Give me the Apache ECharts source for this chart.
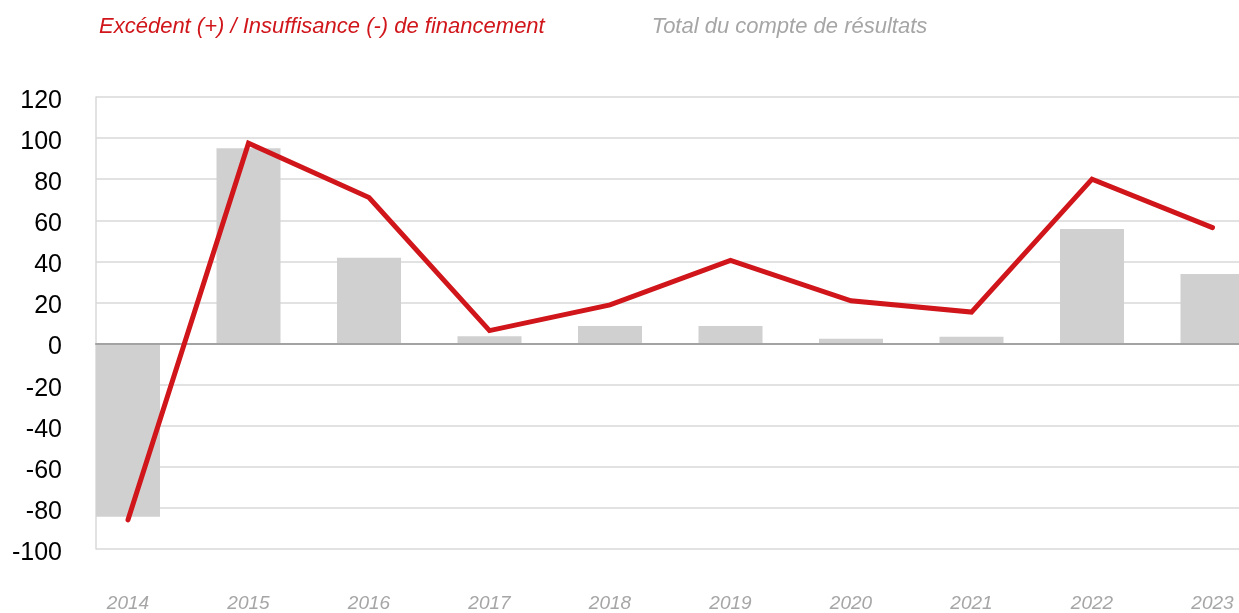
<!DOCTYPE html>
<html>
<head>
<meta charset="utf-8">
<script src="https://cdn.jsdelivr.net/npm/echarts@6/dist/echarts.min.js"></script>
<style>
  html, body { margin: 0; padding: 0; background: #fff; }
  #chart { width: 1239px; height: 613px; }
</style>
</head>
<body>
<div id="chart"></div>
<script>
  // data
  const years = ['2014', '2015', '2016', '2017', '2018', '2019', '2020', '2021', '2022', '2023'];
  const totalResultats = [-84.3, 95.1, 41.7, 3.6, 8.6, 8.6, 2.3, 3.3, 55.8, 33.9];
  const excedent = [-85.8, 97.5, 71.1, 6.3, 18.8, 40.5, 20.8, 15.3, 80, 56.4];
  const yTicks = { min: -100, max: 120, step: 20 };

  const nameLine = 'Excédent (+) / Insuffisance (-) de financement';
  const nameBar = 'Total du compte de résultats';

  const chart = echarts.init(document.getElementById('chart'), null, { renderer: 'canvas' });

  chart.setOption({
    animation: false,
    backgroundColor: '#fff',
    legend: {
      left: 89,
      top: 11,
      itemWidth: 0,
      itemHeight: 0,
      itemGap: 102,
      icon: 'none',
      data: [
        { name: nameLine, textStyle: { color: '#D0161B' } },
        { name: nameBar, textStyle: { color: '#A6A6A6' } }
      ],
      textStyle: {
        fontFamily: 'Liberation Sans, Arial',
        fontStyle: 'italic',
        fontSize: 22
      }
    },
    grid: [
      // background grid: gridlines, y labels, zero line
      { left: 96, right: 0, top: 97, bottom: 64, outerBoundsMode: 'none' },
      // data grid: wider than the canvas so the category centres match the picture
      { left: 67.75, width: 1205, top: 97, bottom: 64, outerBoundsMode: 'none' }
    ],
    xAxis: [
      {
        gridIndex: 0,
        type: 'value',
        min: 0,
        max: 1,
        z: 3,
        axisLine: { show: true, onZero: true, lineStyle: { color: '#A3A3A3', width: 2 } },
        axisTick: { show: false },
        axisLabel: { show: false },
        splitLine: { show: false }
      },
      {
        gridIndex: 1,
        type: 'category',
        data: years,
        axisLine: { show: false },
        axisTick: { show: false },
        axisLabel: {
          margin: 45,
          color: '#A6A6A6',
          fontStyle: 'italic',
          fontFamily: 'Liberation Sans, Arial',
          fontSize: 19
        }
      }
    ],
    yAxis: [
      {
        gridIndex: 0,
        type: 'value',
        min: yTicks.min,
        max: yTicks.max,
        interval: yTicks.step,
        axisLine: { show: true, lineStyle: { color: '#D9D9D9', width: 1.5 } },
        axisTick: { show: false },
        splitLine: { show: true, lineStyle: { color: '#D9D9D9', width: 1.5 } },
        axisLabel: {
          margin: 34,
          color: '#000',
          fontFamily: 'Liberation Sans, Arial',
          fontSize: 25,
          verticalAlign: 'top',
          lineHeight: 8
        }
      },
      {
        gridIndex: 1,
        type: 'value',
        min: yTicks.min,
        max: yTicks.max,
        show: false
      }
    ],
    series: [
      {
        name: nameBar,
        type: 'bar',
        xAxisIndex: 1,
        yAxisIndex: 1,
        data: totalResultats,
        barWidth: 64,
        itemStyle: { color: '#D0D0D0' },
        z: 2
      },
      {
        name: nameLine,
        type: 'line',
        xAxisIndex: 1,
        yAxisIndex: 1,
        data: excedent,
        symbol: 'none',
        lineStyle: { color: '#D0161B', width: 5, cap: 'round', join: 'miter' },
        itemStyle: { color: '#D0161B' },
        z: 5
      }
    ]
  });
</script>
</body>
</html>
